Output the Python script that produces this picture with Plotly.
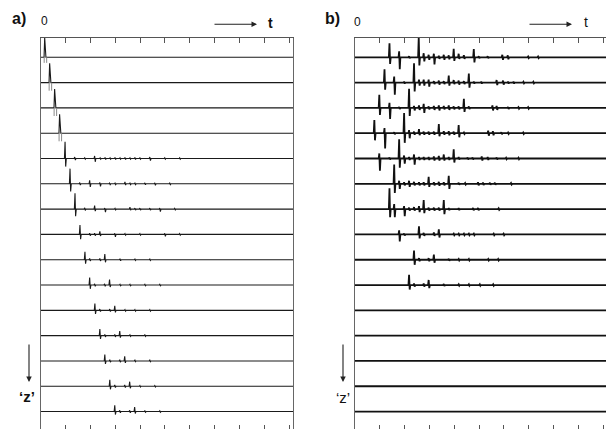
import plotly.graph_objects as go

# ---------------- data ----------------
N_TRACES = 15
TRACE_IDX = list(range(N_TRACES))
TICK_T = [0, 1, 2, 3, 4, 5, 6, 7, 8, 9, 10]

# panel a: main arrival per trace (time, upward lobe, downward lobe; trace spacing = 1)
A_MAIN_T = [0.17, 0.37, 0.57, 0.77, 0.99, 1.19, 1.39, 1.59, 1.79, 1.98, 2.19, 2.39, 2.59, 2.79, 2.99]
A_MAIN_UP = [0.78, 0.76, 0.75, 0.75, 0.66, 0.6, 0.63, 0.37, 0.31, 0.3, 0.27, 0.26, 0.25, 0.25, 0.25]
A_MAIN_DN = [0.22, 0.32, 0.32, 0.32, 0.32, 0.3, 0.28, 0.19, 0.16, 0.15, 0.14, 0.13, 0.12, 0.12, 0.12]

# panel a: later small events per trace (time, up, down)
A_EVENTS = [
    [],
    [],
    [],
    [],
    [(1.38, 0.06, 0.06), (1.78, 0.03, 0.03), (2.18, 0.10, 0.13), (2.40, 0.03, 0.03), (2.60, 0.04, 0.04),
     (2.80, 0.03, 0.03), (3.00, 0.04, 0.04), (3.20, 0.03, 0.03), (3.40, 0.04, 0.04), (3.60, 0.03, 0.03),
     (3.80, 0.04, 0.04), (4.00, 0.03, 0.03), (4.40, 0.06, 0.08), (5.00, 0.03, 0.03), (5.60, 0.03, 0.03)],
    [(1.58, 0.05, 0.05), (1.98, 0.14, 0.12), (2.39, 0.05, 0.10), (2.78, 0.03, 0.03), (3.00, 0.03, 0.03),
     (3.40, 0.08, 0.05), (3.60, 0.03, 0.03), (3.80, 0.03, 0.03), (4.20, 0.04, 0.04), (4.60, 0.04, 0.06),
     (5.20, 0.03, 0.03)],
    [(1.78, 0.05, 0.05), (2.18, 0.14, 0.08), (2.59, 0.04, 0.12), (3.00, 0.03, 0.03), (3.60, 0.08, 0.04),
     (3.80, 0.04, 0.04), (4.00, 0.04, 0.04), (4.40, 0.04, 0.04), (4.80, 0.04, 0.10), (5.40, 0.03, 0.03)],
    [(1.98, 0.05, 0.05), (2.18, 0.05, 0.05), (2.39, 0.12, 0.06), (2.99, 0.04, 0.10), (3.40, 0.03, 0.03),
     (4.00, 0.03, 0.03), (5.00, 0.04, 0.08), (5.60, 0.03, 0.03)],
    [(1.98, 0.05, 0.05), (2.39, 0.05, 0.05), (2.59, 0.22, 0.10), (3.20, 0.04, 0.04), (3.80, 0.03, 0.03),
     (4.40, 0.03, 0.03)],
    [(2.18, 0.05, 0.05), (2.58, 0.05, 0.05), (2.78, 0.22, 0.08), (3.20, 0.03, 0.03), (3.60, 0.03, 0.03),
     (4.20, 0.03, 0.03), (4.80, 0.03, 0.03)],
    [(2.39, 0.05, 0.05), (2.79, 0.05, 0.05), (2.99, 0.18, 0.08), (3.40, 0.03, 0.03), (3.80, 0.03, 0.03),
     (4.40, 0.03, 0.03)],
    [(2.59, 0.05, 0.05), (2.99, 0.05, 0.05), (3.19, 0.18, 0.08), (3.60, 0.03, 0.03), (4.20, 0.03, 0.03)],
    [(2.79, 0.05, 0.05), (3.19, 0.05, 0.05), (3.39, 0.18, 0.08), (3.80, 0.03, 0.03), (4.40, 0.03, 0.03)],
    [(2.99, 0.05, 0.05), (3.39, 0.05, 0.05), (3.59, 0.18, 0.08), (4.00, 0.03, 0.03), (4.60, 0.03, 0.03)],
    [(3.19, 0.05, 0.05), (3.59, 0.05, 0.05), (3.79, 0.18, 0.08), (4.20, 0.03, 0.03), (4.80, 0.03, 0.03)],
]

# panel b: events per trace (time, up, down)
B_EVENTS = [
    [(1.40, 0.55, 0.26), (1.79, 0.24, 0.47), (2.19, 0.04, 0.04), (2.58, 0.80, 0.32), (2.78, 0.16, 0.16),
     (2.98, 0.10, 0.10), (3.19, 0.14, 0.28), (3.39, 0.06, 0.06), (3.59, 0.10, 0.10), (3.79, 0.08, 0.08),
     (3.99, 0.34, 0.14), (4.19, 0.14, 0.06), (4.40, 0.08, 0.06), (4.80, 0.33, 0.20), (5.00, 0.04, 0.04),
     (5.36, 0.04, 0.04), (5.95, 0.10, 0.10), (6.17, 0.08, 0.08), (6.99, 0.03, 0.03), (7.39, 0.03, 0.03)],
    [(1.20, 0.53, 0.28), (1.59, 0.24, 0.48), (1.99, 0.04, 0.04), (2.39, 0.76, 0.35), (2.59, 0.12, 0.12),
     (2.78, 0.12, 0.12), (2.98, 0.12, 0.16), (3.19, 0.06, 0.06), (3.39, 0.08, 0.08), (3.59, 0.06, 0.06),
     (3.79, 0.28, 0.12), (3.99, 0.10, 0.06), (4.19, 0.08, 0.08), (4.40, 0.06, 0.06), (4.60, 0.36, 0.20),
     (4.80, 0.04, 0.04), (5.10, 0.04, 0.04), (5.72, 0.10, 0.10), (5.98, 0.08, 0.08), (6.18, 0.04, 0.04),
     (6.40, 0.04, 0.04), (6.80, 0.03, 0.03), (7.20, 0.03, 0.03)],
    [(0.99, 0.52, 0.28), (1.40, 0.20, 0.44), (1.79, 0.04, 0.04), (2.19, 0.76, 0.32), (2.39, 0.08, 0.10),
     (2.59, 0.10, 0.08), (2.78, 0.16, 0.20), (2.98, 0.06, 0.06), (3.19, 0.08, 0.08), (3.39, 0.10, 0.10),
     (3.59, 0.08, 0.06), (3.79, 0.10, 0.08), (3.99, 0.06, 0.06), (4.19, 0.06, 0.06), (4.40, 0.36, 0.16),
     (4.60, 0.06, 0.04), (5.55, 0.10, 0.10), (5.72, 0.08, 0.08), (6.18, 0.04, 0.04), (6.60, 0.03, 0.03),
     (6.99, 0.03, 0.03)],
    [(0.79, 0.52, 0.28), (1.20, 0.20, 0.60), (1.59, 0.04, 0.04), (1.99, 0.80, 0.38), (2.19, 0.12, 0.20),
     (2.39, 0.06, 0.06), (2.59, 0.16, 0.08), (2.78, 0.06, 0.06), (2.98, 0.06, 0.06), (3.19, 0.06, 0.06),
     (3.39, 0.36, 0.12), (3.59, 0.08, 0.06), (3.79, 0.08, 0.08), (3.99, 0.06, 0.06), (4.19, 0.32, 0.16),
     (4.40, 0.03, 0.03), (5.38, 0.10, 0.10), (5.57, 0.08, 0.08), (5.91, 0.04, 0.04), (6.18, 0.03, 0.03),
     (6.79, 0.03, 0.03)],
    [(0.99, 0.20, 0.48), (1.40, 0.04, 0.04), (1.79, 0.76, 0.36), (1.99, 0.12, 0.20), (2.19, 0.06, 0.06),
     (2.39, 0.16, 0.24), (2.59, 0.06, 0.06), (2.78, 0.06, 0.06), (2.98, 0.06, 0.06), (3.19, 0.08, 0.08),
     (3.39, 0.10, 0.08), (3.59, 0.16, 0.08), (3.79, 0.06, 0.06), (3.99, 0.36, 0.16), (4.19, 0.06, 0.04),
     (4.55, 0.04, 0.04), (4.75, 0.04, 0.04), (5.12, 0.08, 0.08), (5.36, 0.06, 0.06), (5.72, 0.04, 0.04),
     (6.10, 0.03, 0.03), (6.60, 0.03, 0.03)],
    [(1.59, 0.76, 0.36), (1.79, 0.12, 0.20), (1.99, 0.06, 0.06), (2.19, 0.12, 0.12), (2.39, 0.08, 0.06),
     (2.59, 0.06, 0.06), (2.78, 0.06, 0.06), (2.98, 0.28, 0.12), (3.19, 0.06, 0.06), (3.39, 0.08, 0.08),
     (3.59, 0.06, 0.06), (3.79, 0.32, 0.20), (4.19, 0.04, 0.04), (4.45, 0.03, 0.03), (4.97, 0.06, 0.06),
     (5.17, 0.05, 0.05), (5.45, 0.04, 0.04), (5.65, 0.04, 0.04), (6.30, 0.03, 0.03)],
    [(1.40, 0.82, 0.32), (1.59, 0.20, 0.32), (1.99, 0.12, 0.28), (2.19, 0.06, 0.06), (2.39, 0.08, 0.06),
     (2.59, 0.12, 0.12), (2.78, 0.36, 0.16), (2.98, 0.06, 0.06), (3.19, 0.06, 0.06), (3.39, 0.06, 0.06),
     (3.59, 0.36, 0.20), (3.79, 0.04, 0.04), (4.19, 0.04, 0.04), (4.77, 0.05, 0.05), (4.97, 0.05, 0.05),
     (5.80, 0.03, 0.03)],
    [(1.79, 0.16, 0.28), (1.99, 0.04, 0.04), (2.59, 0.32, 0.16), (2.78, 0.06, 0.06), (3.19, 0.08, 0.06),
     (3.39, 0.20, 0.12), (3.99, 0.03, 0.03), (4.19, 0.03, 0.03), (4.40, 0.03, 0.03), (4.60, 0.03, 0.03),
     (4.80, 0.03, 0.03), (5.60, 0.03, 0.03), (6.00, 0.03, 0.03)],
    [(2.39, 0.36, 0.20), (2.59, 0.06, 0.06), (2.98, 0.06, 0.06), (3.19, 0.20, 0.12), (3.79, 0.04, 0.04),
     (4.19, 0.03, 0.03), (4.60, 0.03, 0.03), (5.38, 0.03, 0.03), (5.78, 0.03, 0.03)],
    [(2.19, 0.40, 0.18), (2.39, 0.06, 0.06), (2.78, 0.06, 0.06), (2.98, 0.20, 0.12), (3.59, 0.04, 0.04),
     (4.19, 0.03, 0.03), (4.60, 0.03, 0.03), (5.04, 0.03, 0.03), (5.58, 0.03, 0.03)],
    [],
    [],
    [],
    [],
    [],
]

# ---------------- geometry / style ----------------
FIG_W, FIG_H = 606, 429
TOP_PX = 38
PLOT_H = FIG_H - TOP_PX
A_X_RANGE = [0, 10.15]
B_X_RANGE = [0, 10.12]
Y_RANGE = [14.69, -0.763]
A_DOMAIN = [40.7 / FIG_W, 293.0 / FIG_W]
B_DOMAIN = [355.0 / FIG_W, 1.0]
FONT = "Arial, Liberation Sans, sans-serif"
FRAME = "#555555"


def px(xp):
    return xp / FIG_W


def py(yp):
    return (FIG_H - yp) / PLOT_H


def wiggle(events, base, tmax):
    xs, ys = [0.0], [base]
    for t, up, dn in sorted(events):
        xs += [t - 0.035, t - 0.01, t + 0.015, t + 0.04]
        ys += [base, base - up, base + dn, base]
    xs.append(tmax)
    ys.append(base)
    return xs, ys


fig = go.Figure()

# panel a traces
for i in TRACE_IDX:
    gray_lobe = i < 4
    ev = list(A_EVENTS[i])
    ev.append((A_MAIN_T[i], A_MAIN_UP[i], 0.0 if gray_lobe else A_MAIN_DN[i]))
    xs, ys = wiggle(ev, i, A_X_RANGE[1])
    fig.add_trace(go.Scatter(x=xs, y=ys, mode="lines", xaxis="x", yaxis="y",
                             line=dict(color="#1a1a1a", width=1.1), hoverinfo="skip",
                             showlegend=False))
    if gray_lobe:
        t = A_MAIN_T[i]
        fig.add_trace(go.Scatter(
            x=[t - 0.03, t - 0.03, None, t + 0.07, t + 0.07],
            y=[i, i + A_MAIN_DN[i], None, i, i + A_MAIN_DN[i]],
            mode="lines", xaxis="x", yaxis="y", line=dict(color="#8a8a8a", width=1),
            hoverinfo="skip", showlegend=False))

# panel b traces
for i in TRACE_IDX:
    xs, ys = wiggle(B_EVENTS[i], i, B_X_RANGE[1])
    fig.add_trace(go.Scatter(x=xs, y=ys, mode="lines", xaxis="x3", yaxis="y2",
                             line=dict(color="#111111", width=1.8), hoverinfo="skip",
                             showlegend=False))

# invisible carriers so the top tick axes are drawn
fig.add_trace(go.Scatter(x=[0], y=[0], mode="markers", xaxis="x2", yaxis="y",
                         marker=dict(size=1, opacity=0), hoverinfo="skip", showlegend=False))
fig.add_trace(go.Scatter(x=[0], y=[0], mode="markers", xaxis="x4", yaxis="y2",
                         marker=dict(size=1, opacity=0), hoverinfo="skip", showlegend=False))

bottom_ax = dict(showgrid=False, zeroline=False, showline=False, ticks="inside", ticklen=4,
                 tickwidth=1, tickcolor=FRAME, tickvals=TICK_T, showticklabels=False,
                 fixedrange=True, automargin=False)
top_ax = dict(showgrid=False, zeroline=False, showline=True, linecolor=FRAME, linewidth=1,
              ticks="inside", ticklen=5, tickwidth=1, tickcolor=FRAME, tickvals=TICK_T,
              showticklabels=False, side="top", fixedrange=True, automargin=False)
y_ax = dict(showgrid=False, zeroline=False, showline=True, linecolor="#666666", linewidth=1.2,
            ticks="", showticklabels=False, range=Y_RANGE, domain=[0, 1], fixedrange=True,
            automargin=False)

annotations = [
    dict(text="<b>a)</b>", x=px(18.5), y=py(18), font=dict(size=16)),
    dict(text="0", x=px(44), y=py(21), font=dict(size=12)),
    dict(text="<b>t</b>", x=px(270), y=py(23), font=dict(size=14)),
    dict(text="<b>b)</b>", x=px(332), y=py(18), font=dict(size=16)),
    dict(text="0", x=px(357), y=py(22), font=dict(size=12)),
    dict(text="t", x=px(585.5), y=py(22), font=dict(size=14)),
    dict(text="<b>\u2018z\u2019</b>", x=px(27), y=py(396), font=dict(size=15)),
    dict(text="\u2018z\u2019", x=px(343), y=py(397), font=dict(size=15)),
]
for a in annotations:
    a.update(xref="paper", yref="paper", showarrow=False, xanchor="center", yanchor="middle")
    a["font"].update(family=FONT, color="#111111")

arrows = [
    dict(x=px(257), y=py(24.3), ax=-44, ay=0),
    dict(x=px(572), y=py(24.3), ax=-44, ay=0),
    dict(x=px(29), y=py(382), ax=0, ay=-39),
    dict(x=px(343), y=py(382), ax=0, ay=-39),
]
for a in arrows:
    a.update(xref="paper", yref="paper", text="", showarrow=True, arrowhead=2, arrowsize=1,
             arrowwidth=1.1, arrowcolor="#222222")
annotations += arrows

fig.update_layout(
    template="none",
    width=FIG_W, height=FIG_H,
    margin=dict(l=0, r=0, t=TOP_PX, b=0, pad=0, autoexpand=False),
    paper_bgcolor="white", plot_bgcolor="white",
    showlegend=False,
    xaxis=dict(**bottom_ax, domain=A_DOMAIN, range=A_X_RANGE, anchor="y"),
    xaxis2=dict(**top_ax, overlaying="x", range=A_X_RANGE, anchor="y"),
    yaxis=dict(**y_ax, anchor="x", mirror=True),
    xaxis3=dict(**bottom_ax, domain=B_DOMAIN, range=B_X_RANGE, anchor="y2"),
    xaxis4=dict(**top_ax, overlaying="x3", range=B_X_RANGE, anchor="y2"),
    yaxis2=dict(**y_ax, anchor="x3"),
    annotations=annotations,
)

fig.write_html("out.html", config={"displayModeBar": False},
               post_script="document.body.style.margin='0';document.body.style.overflow='hidden';")
